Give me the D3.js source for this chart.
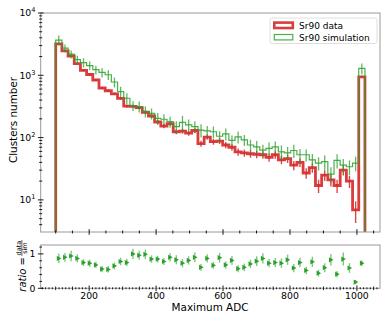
<!DOCTYPE html>
<html><head><meta charset="utf-8">
<script src="https://cdn.jsdelivr.net/npm/d3@7"></script>
<style>body{margin:0;background:#fff}svg{display:block;font-family:"DejaVu Sans",sans-serif}</style>
</head><body><svg id="c" width="390" height="323"></svg>
<script>
const binEdges = [100,118.48,136.96,155.44,173.92,192.4,210.88,229.36,247.84,266.32,284.8,303.28,321.76,340.24,358.72,377.2,395.68,414.16,432.64,451.12,469.6,488.08,506.56,525.04,543.52,562,580.48,598.96,617.44,635.92,654.4,672.88,691.36,709.84,728.32,746.8,765.28,783.76,802.24,820.72,839.2,857.68,876.16,894.64,913.12,931.6,950.08,968.56,987.04,1005.52,1024];
const dataCounts = [3200,2460,2040,1540,1200,1030,840,625,565,505,425,320,318,302,255,222,178,153,168,124,127,118,130,80,102,86,88,76,70,59,57,55,54,53,48,53,44,46,36,40,27,33,17,25,21,17,30,20,6.9,940];
const simCounts = [3680,2720,2180,1780,1600,1430,1230,1110,1020,780,548,428,325,315,262,245,204,197,180,150,175,160,150,132,128,124,105,115,90,103,92,76,71,63,67,71,59,57,62,53,53,44,39,41,26,43,36,34,39,1290];
const simErrRel = [0.18,0.15,0.15,0.16,0.17,0.16,0.16,0.17,0.18,0.18,0.2,0.2,0.18,0.2,0.2,0.2,0.22,0.2,0.2,0.22,0.28,0.22,0.22,0.24,0.2,0.22,0.2,0.22,0.2,0.22,0.2,0.22,0.24,0.22,0.24,0.22,0.26,0.24,0.24,0.24,0.22,0.24,0.24,0.26,0.28,0.26,0.26,0.26,0.26,0.2];
const ratioVals = [0.87,0.90,0.94,0.87,0.75,0.73,0.68,0.56,0.55,0.65,0.78,0.75,1.00,0.96,0.99,0.85,0.85,0.78,0.90,0.83,0.73,0.81,0.90,0.61,0.87,0.67,0.89,0.68,0.81,0.57,0.61,0.71,0.79,0.87,0.73,0.75,0.73,0.83,0.59,0.75,0.52,0.77,0.44,0.60,0.83,0.41,0.85,0.59,0.18,0.73];
const ratioErr = [0.14,0.13,0.15,0.12,0.10,0.10,0.09,0.09,0.09,0.10,0.11,0.10,0.15,0.13,0.14,0.11,0.10,0.10,0.12,0.13,0.12,0.12,0.14,0.10,0.12,0.10,0.14,0.11,0.13,0.10,0.11,0.12,0.14,0.15,0.12,0.13,0.14,0.15,0.12,0.14,0.11,0.15,0.10,0.13,0.17,0.09,0.19,0.14,0.06,0.08];
const xTickVals = [200,400,600,800,1000];
const yTopTicks = [10,100,1000,10000];
const yTopTickExp = ["1","2","3","4"];
const legendLabels = ["Sr90 data","Sr90 simulation"];

const RED="#d62728", GREEN="#2ca02c", FRAME="#9a9a9a";
const svg = d3.select("#c");
const L=40.7, R=380, T1=13, B1=232, T2=245, B2=288.3;
const x = d3.scaleLinear().domain([55.2,1069]).range([L,R]);
const y = d3.scaleLog().domain([3.05,1e4]).range([B1,T1]);
const yr = d3.scaleLinear().domain([0,1.26]).range([B2,T2]);

svg.append("defs").append("clipPath").attr("id","cp1").append("rect")
  .attr("x",L).attr("y",T1).attr("width",R-L).attr("height",B1-T1);

function stepPts(vals){
  const pts=[[x(binEdges[0]),B1+5]];
  vals.forEach((v,i)=>{pts.push([x(binEdges[i]),y(v)]);pts.push([x(binEdges[i+1]),y(v)]);});
  pts.push([x(binEdges[binEdges.length-1]),B1+5]);
  return pts;
}
const line = d3.line();
const g1 = svg.append("g").attr("clip-path","url(#cp1)");
const centers = dataCounts.map((d,i)=>(binEdges[i]+binEdges[i+1])/2);

// data histogram
g1.append("path").attr("d",line(stepPts(dataCounts))).attr("fill","none")
  .attr("stroke",RED).attr("stroke-width",2.8).attr("stroke-opacity",0.9).attr("stroke-linejoin","miter");
g1.selectAll(".de").data(dataCounts).join("line")
  .attr("x1",(d,i)=>x(centers[i])).attr("x2",(d,i)=>x(centers[i]))
  .attr("y1",d=>y(d+Math.sqrt(d))).attr("y2",d=>y(Math.max(d-Math.sqrt(d),3.0)))
  .attr("stroke",RED).attr("stroke-width",1.4).attr("stroke-opacity",0.85);
// simulation histogram
g1.selectAll(".se").data(simCounts).join("line")
  .attr("x1",(d,i)=>x(centers[i])).attr("x2",(d,i)=>x(centers[i]))
  .attr("y1",(d,i)=>y(d*(1+simErrRel[i]))).attr("y2",(d,i)=>y(d*(1-simErrRel[i])))
  .attr("stroke",GREEN).attr("stroke-width",1.3).attr("stroke-opacity",0.75);
g1.append("path").attr("d",line(stepPts(simCounts))).attr("fill","none")
  .attr("stroke",GREEN).attr("stroke-width",1.2).attr("stroke-opacity",0.85);

// frames
svg.append("rect").attr("x",L).attr("y",T1).attr("width",R-L).attr("height",B1-T1)
  .attr("fill","none").attr("stroke",FRAME).attr("stroke-width",1);
svg.append("rect").attr("x",L).attr("y",T2).attr("width",R-L).attr("height",B2-T2)
  .attr("fill","none").attr("stroke",FRAME).attr("stroke-width",1);

function tick(xp,yp,dx,dy){svg.append("line").attr("x1",xp-dx).attr("x2",xp+dx).attr("y1",yp-dy).attr("y2",yp+dy).attr("stroke","#000").attr("stroke-width",0.9);}
// x ticks
const minor50 = d3.range(100,1051,50);
minor50.forEach(v=>{
  const maj = v%200===0;
  tick(x(v),B1,0,maj?2.8:1.5);
  tick(x(v),B2,0,maj?2.8:1.8);
});
d3.range(60,1061,10).filter(v=>v%50!==0).forEach(v=>tick(x(v),B2,0,1));
// top y ticks
yTopTicks.forEach(v=>tick(L,y(v),2.8,0));
[3,4,5,6,7,8,9].concat([20,30,40,50,60,70,80,90,200,300,400,500,600,700,800,900,2000,3000,4000,5000,6000,7000,8000,9000]).forEach(v=>{ if(v>=3.05) tick(L,y(v),1.5,0);});
// ratio y ticks
[0,1].forEach(v=>tick(L,yr(v),2.8,0));
[0.2,0.4,0.6,0.8,1.2].forEach(v=>tick(L,yr(v),1.3,0));

// labels
const fs=9.3;
xTickVals.forEach(v=>svg.append("text").attr("x",x(v)).attr("y",298.5).attr("text-anchor","middle").attr("font-size",fs).text(v));
yTopTicks.forEach((v,i)=>{
  const t=svg.append("text").attr("x",35.5).attr("y",y(v)+3.3).attr("text-anchor","end").attr("font-size",fs);
  t.append("tspan").text("10");
  t.append("tspan").attr("dy",-4).attr("font-size",6.6).text(yTopTickExp[i]);
});
[0,1].forEach(v=>svg.append("text").attr("x",35.5).attr("y",yr(v)+3.3).attr("text-anchor","end").attr("font-size",fs).text(v));
svg.append("text").attr("x",210).attr("y",311).attr("text-anchor","middle").attr("font-size",10.4).text("Maximum ADC");
svg.append("text").attr("transform","translate(17,120) rotate(-90)").attr("text-anchor","middle").attr("font-size",10.4).text("Clusters number");

// ratio label
const rg = svg.append("g").attr("transform","translate(25.5,266.7) rotate(-90)");
const rt = rg.append("text").attr("x",-25).attr("y",0).attr("font-size",10);
rt.append("tspan").attr("font-style","italic").text("ratio");
rt.append("tspan").text(" = ");
const w0 = rt.node().getComputedTextLength();
const fx = -25 + w0 + 1;
rg.append("text").attr("x",fx+8).attr("y",-5).attr("text-anchor","middle").attr("font-size",6.5).text("data");
rg.append("line").attr("x1",fx).attr("x2",fx+16).attr("y1",-3.6).attr("y2",-3.6).attr("stroke","#000").attr("stroke-width",0.6);
rg.append("text").attr("x",fx+8).attr("y",1.5).attr("text-anchor","middle").attr("font-size",6.5).text("sim");

// ratio points
svg.selectAll(".re").data(ratioVals).join("line")
  .attr("x1",(d,i)=>x(centers[i])).attr("x2",(d,i)=>x(centers[i]))
  .attr("y1",(d,i)=>yr(d+ratioErr[i])).attr("y2",(d,i)=>yr(Math.max(d-ratioErr[i],0)))
  .attr("stroke",GREEN).attr("stroke-width",1.4).attr("stroke-opacity",0.6);
svg.selectAll(".rm").data(ratioVals).join("path")
  .attr("d",(d,i)=>{const cx=x(centers[i]),cy=yr(d);return `M${cx-2},${cy-2.6}L${cx+2.6},${cy}L${cx-2},${cy+2.6}Z`;})
  .attr("fill",GREEN);

// legend
const lg = svg.append("g");
lg.append("rect").attr("x",270).attr("y",18).attr("width",107).attr("height",25.5).attr("rx",2)
  .attr("fill","#fff").attr("fill-opacity",0.8).attr("stroke","#d5d5d5").attr("stroke-width",0.8);
lg.append("rect").attr("x",274.3).attr("y",22.6).attr("width",18.5).attr("height",5.4)
  .attr("fill","#fff").attr("stroke",RED).attr("stroke-width",2.6).attr("stroke-opacity",0.9);
lg.append("rect").attr("x",274.3).attr("y",34.5).attr("width",18.5).attr("height",5.4)
  .attr("fill","#fff").attr("stroke",GREEN).attr("stroke-width",1.2).attr("stroke-opacity",0.85);
legendLabels.forEach((t,i)=>lg.append("text").attr("x",299).attr("y",28.6+i*12).attr("font-size",9).text(t));
</script></body></html>
